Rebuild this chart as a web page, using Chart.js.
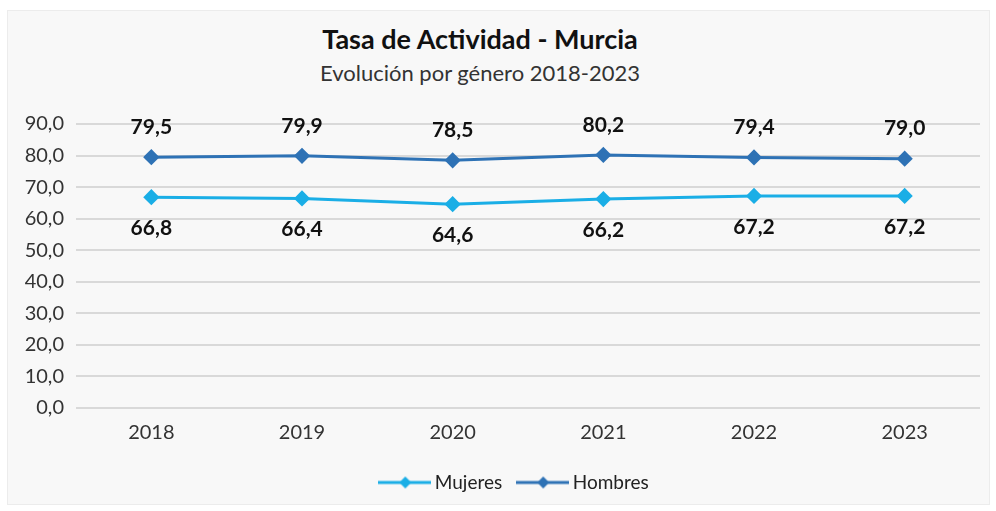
<!DOCTYPE html>
<html lang="es">
<head>
  <meta charset="UTF-8">
  <title>Tasa de Actividad - Murcia</title>
  <script src="https://cdn.jsdelivr.net/npm/chart.js"></script>
  <style>
    body {
      margin: 0;
      background: #fff;
      font-family: 'Lato', 'Open Sans', sans-serif;
    }
    .panel {
      position: absolute;
      left: 7px;
      top: 10px;
      width: 981px;
      height: 493px;
      background: #f8f8f8;
      border: 1px solid #ececec;
    }
    .titulo {
      position: absolute;
      left: 0;
      width: 944px;
      text-align: center;
      color: #111;
    }
    #t1 { top: 11px; font-size: 27px; font-weight: bold; }
    #t2 { top: 48px; font-size: 22px; color: #333; }
    .wrap {
      position: absolute;
      left: 0;
      top: 85px;
      width: 981px;
      height: 408px;
    }
  </style>
</head>
<body>
  <div class="panel">
    <div class="titulo" id="t1">Tasa de Actividad - Murcia</div>
    <div class="titulo" id="t2">Evolución por género 2018-2023</div>
    <div class="wrap"><canvas id="chart"></canvas></div>
  </div>

  <script>
    // datos
    const years = ['2018', '2019', '2020', '2021', '2022', '2023'];
    const mujeres = [66.8, 66.4, 64.6, 66.2, 67.2, 67.2];
    const hombres = [79.5, 79.9, 78.5, 80.2, 79.4, 79.0];
    const yTicks = [0, 10, 20, 30, 40, 50, 60, 70, 80, 90];

    const colMujeres = '#1aaee6';
    const colHombres = '#2e72b5';

    const fmt = v => v.toFixed(1).replace('.', ',');

    // legend marker: line with a diamond in the middle
    // (wider than the legend box so the line runs close to the text)
    function legendIcon(color) {
      const c = document.createElement('canvas');
      c.width = 53;
      c.height = 14;
      const g = c.getContext('2d');
      g.strokeStyle = color;
      g.lineWidth = 3;
      g.beginPath();
      g.moveTo(0, 7);
      g.lineTo(53, 7);
      g.stroke();
      g.fillStyle = color;
      g.beginPath();
      g.moveTo(27, 1);
      g.lineTo(33, 7);
      g.lineTo(27, 13);
      g.lineTo(21, 7);
      g.closePath();
      g.fill();
      return c;
    }

    // value labels: men above, women below
    const valueLabels = {
      id: 'valueLabels',
      afterLayout(chart) {
        // legend in the original sits a bit right of centre
        chart.legend.left += 22;
        chart.legend.right += 22;
      },
      afterDatasetsDraw(chart) {
        const ctx = chart.ctx;
        ctx.save();
        ctx.font = 'bold 21px Lato, sans-serif';
        ctx.fillStyle = '#111';
        ctx.textAlign = 'center';
        ctx.textBaseline = 'middle';
        chart.data.datasets.forEach((ds, i) => {
          const meta = chart.getDatasetMeta(i);
          meta.data.forEach((pt, j) => {
            const off = ds.label === 'Hombres' ? -30 : 31;
            ctx.fillText(fmt(ds.data[j]), pt.x, pt.y + off);
          });
        });
        ctx.restore();
      }
    };

    new Chart(document.getElementById('chart'), {
      type: 'line',
      data: {
        labels: years,
        datasets: [
          {
            label: 'Mujeres',
            data: mujeres,
            borderColor: colMujeres,
            backgroundColor: colMujeres,
            borderWidth: 3,
            pointStyle: 'rectRot',
            pointRadius: 6,
            pointHoverRadius: 6,
            tension: 0
          },
          {
            label: 'Hombres',
            data: hombres,
            borderColor: colHombres,
            backgroundColor: colHombres,
            borderWidth: 3,
            pointStyle: 'rectRot',
            pointRadius: 6,
            pointHoverRadius: 6,
            tension: 0
          }
        ]
      },
      options: {
        responsive: true,
        maintainAspectRatio: false,
        animation: false,
        layout: { padding: { top: 28, right: 8, bottom: 2, left: 0 } },
        scales: {
          x: {
            offset: true,
            grid: { display: false },
            border: { display: false },
            afterFit(axis) { axis.height += 3; },
            ticks: {
              color: '#333',
              font: { family: 'Lato', size: 20 },
              padding: 5
            }
          },
          y: {
            min: 0,
            max: 90,
            afterBuildTicks(axis) {
              axis.ticks = yTicks.map(v => ({ value: v }));
            },
            afterFit(axis) { axis.width = 68; },
            grid: { color: '#d9d9d9', lineWidth: 2, drawTicks: false },
            border: { display: false },
            ticks: {
              color: '#333',
              font: { family: 'Lato', size: 20 },
              padding: 12,
              callback: v => fmt(v)
            }
          }
        },
        plugins: {
          legend: {
            position: 'bottom',
            labels: {
              usePointStyle: true,
              pointStyleWidth: 41,
              padding: 20,
              color: '#222',
              font: { family: 'Lato', size: 19 },
              generateLabels(chart) {
                return chart.data.datasets.map((ds, i) => ({
                  text: ds.label,
                  pointStyle: legendIcon(ds.borderColor),
                  fillStyle: ds.borderColor,
                  strokeStyle: ds.borderColor,
                  lineWidth: 0,
                  fontColor: '#222',
                  datasetIndex: i
                }));
              }
            }
          },
          tooltip: { enabled: false }
        }
      },
      plugins: [valueLabels]
    });
  </script>
</body>
</html>
